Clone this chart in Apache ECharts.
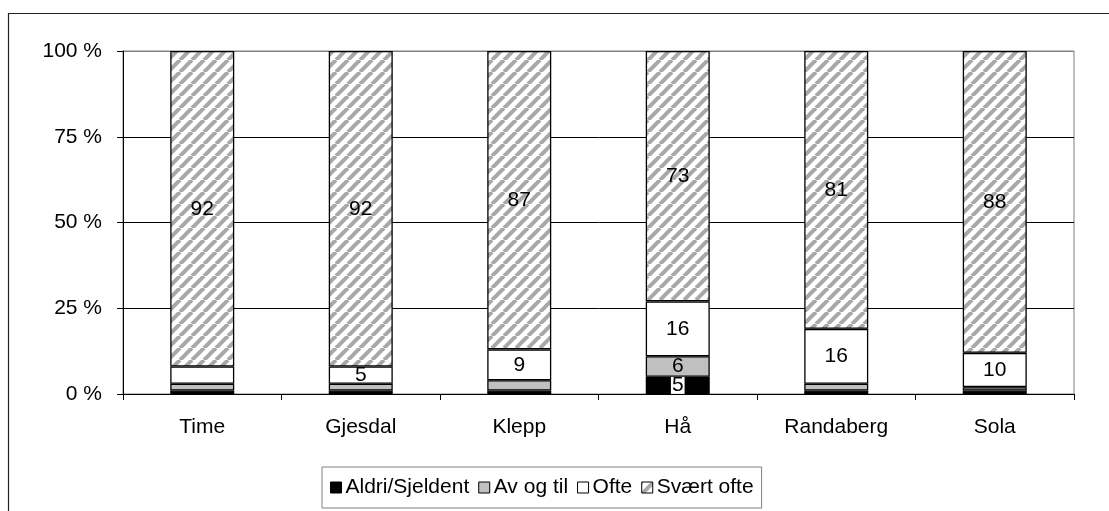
<!DOCTYPE html>
<html><head><meta charset="utf-8">
<script src="https://cdn.jsdelivr.net/npm/echarts@6/dist/echarts.min.js"></script>
<style>html,body{margin:0;padding:0;background:#fff}#c{width:1109px;height:511px}</style>
</head><body><div id="c"></div>
<script>
const categories = ['Time', 'Gjesdal', 'Klepp', 'Hå', 'Randaberg', 'Sola'];
const aldriSjeldent = [1, 1, 1, 5, 1, 1];
const avOgTil = [2, 2, 3, 6, 2, 1];
const ofte = [5, 5, 9, 16, 16, 10];
const svaertOfte = [92, 92, 87, 73, 81, 88];
const seriesNames = ['Aldri/Sjeldent', 'Av og til', 'Ofte', 'Svært ofte'];
const yTicks = [0, 25, 50, 75, 100];
// labels shown in the original (series index -> category indexes)
const shownLabels = [[3], [3], [1, 2, 3, 4, 5], [0, 1, 2, 3, 4, 5]];

function hatch() {
  const s = 12, c = document.createElement('canvas');
  c.width = s; c.height = s;
  const g = c.getContext('2d');
  g.fillStyle = '#ffffff'; g.fillRect(0, 0, s, s);
  g.strokeStyle = '#a8a8a8'; g.lineWidth = 4;
  for (const k of [-s, 0, s]) { g.beginPath(); g.moveTo(k, s); g.lineTo(k + s, 0); g.stroke(); }
  return { image: c, repeat: 'repeat' };
}
const fills = ['#000000', '#c0c0c0', '#ffffff', hatch()];
const values = [aldriSjeldent, avOgTil, ofte, svaertOfte];
const font = 'Liberation Sans, Arial, sans-serif';

const series = values.map((arr, si) => ({
  name: seriesNames[si], type: 'bar', stack: 'all', barWidth: 64,
  itemStyle: { color: fills[si], borderColor: '#000', borderWidth: 1.3 },
  data: arr.map((v, ci) => {
    const show = shownLabels[si].includes(ci);
    const lab = { show: show, position: 'inside', color: '#000', fontSize: 21, fontFamily: font };
    if (si === 0) { lab.backgroundColor = '#fff'; lab.padding = [0, 1, 0, 1]; lab.lineHeight = 17; }
    return { value: v, label: lab };
  })
}));

const chart = echarts.init(document.getElementById('c'), null, { renderer: 'canvas' });
chart.setOption({
  animation: false,
  backgroundColor: '#fff',
  graphic: [{ type: 'rect', shape: { x: 8.5, y: 13.5, width: 1300, height: 700 }, style: { fill: 'none', stroke: '#222', lineWidth: 1.2 }, z: -1 }],
  grid: { left: 123, right: 35, top: 51, bottom: 117, show: true, borderColor: '#808080', borderWidth: 1, backgroundColor: 'transparent' },
  xAxis: {
    type: 'category', data: categories,
    axisLine: { lineStyle: { color: '#000', width: 1 } },
    axisTick: { show: true, length: 6, lineStyle: { color: '#000' } },
    axisLabel: { color: '#000', fontSize: 21, fontFamily: font, margin: 23 }
  },
  yAxis: {
    type: 'value', min: 0, max: 100, interval: 25,
    axisLine: { show: true, lineStyle: { color: '#000', width: 1 } },
    axisTick: { show: true, length: 6, lineStyle: { color: '#000' } },
    splitLine: { show: true, lineStyle: { color: ['#000', '#000', '#000', '#000', '#808080'], width: 1 } },
    axisLabel: { color: '#000', fontSize: 21, fontFamily: font, margin: 21,
      formatter: v => yTicks.includes(v) ? v + ' %' : '' }
  },
  legend: {
    data: seriesNames, left: 322, top: 467, orient: 'horizontal',
    borderColor: '#808080', borderWidth: 1, padding: [10, 8, 10, 8],
    itemWidth: 11, itemHeight: 11, itemGap: 9, icon: 'rect',
    itemStyle: { borderColor: '#000', borderWidth: 1 },
    textStyle: { color: '#000', fontSize: 21, fontFamily: font, padding: [0, 0, 0, -1] }
  },
  series: series
});
</script></body></html>
